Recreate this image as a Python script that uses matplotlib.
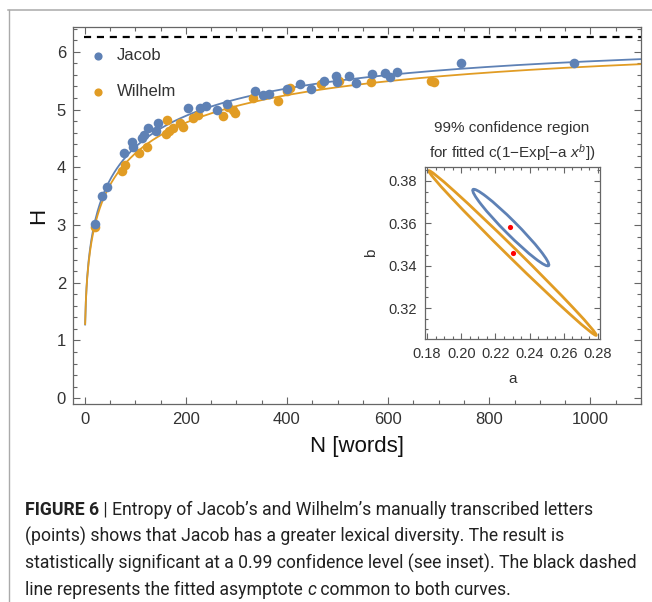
import numpy as np
import matplotlib
matplotlib.use("Agg")
import matplotlib.pyplot as plt
from matplotlib.patches import Ellipse
from matplotlib.lines import Line2D
from matplotlib.ticker import MultipleLocator

# ---------------- data ----------------
jacob_N = [20, 34, 44, 78, 94, 95, 113, 118, 126, 142, 146, 205, 229, 240, 261, 281,
           336, 353, 365, 400, 425, 448, 474, 497, 499, 523, 537, 569, 594, 604, 618, 744, 967]
jacob_H = [3.02, 3.50, 3.66, 4.24, 4.44, 4.36, 4.50, 4.56, 4.68, 4.62, 4.77, 5.03, 5.03, 5.06, 5.00, 5.10,
           5.33, 5.26, 5.27, 5.35, 5.44, 5.35, 5.49, 5.58, 5.48, 5.58, 5.46, 5.61, 5.63, 5.57, 5.65, 5.80, 5.80]

wilhelm_N = [20, 73, 80, 108, 124, 160, 162, 166, 175, 188, 194, 214, 224, 273, 283, 293, 297,
             333, 382, 400, 406, 468, 502, 567, 685, 691]
wilhelm_H = [2.97, 3.94, 4.04, 4.25, 4.35, 4.57, 4.82, 4.62, 4.68, 4.76, 4.70, 4.85, 4.90, 4.89, 5.05, 5.00, 4.94,
             5.20, 5.15, 5.33, 5.38, 5.45, 5.49, 5.48, 5.49, 5.47]

# fitted model c(1 - exp(-a x^b)), common asymptote c
c_fit = 6.25
jacob_ab = (0.2285, 0.3583)
wilhelm_ab = (0.2303, 0.3462)

# 99% confidence ellipses in (a, b): centre, major, minor, angle
jacob_ell = dict(center=(0.229, 0.358), major=0.057, minor=0.0068, angle=-38.9)
wilhelm_ell = dict(center=(0.230, 0.346), major=0.125, minor=0.0050, angle=-38.4)

series_labels = ["Jacob", "Wilhelm"]
xticks_main = [0, 200, 400, 600, 800, 1000]
yticks_main = [0, 1, 2, 3, 4, 5, 6]
xticks_inset = [0.18, 0.20, 0.22, 0.24, 0.26, 0.28]
yticks_inset = [0.32, 0.34, 0.36, 0.38]

caption_lines = [
    [("FIGURE 6", "bold", "normal"), (" | Entropy of Jacob\u2019s and Wilhelm\u2019s manually transcribed letters", "normal", "normal")],
    [("(points) shows that Jacob has a greater lexical diversity. The result is", "normal", "normal")],
    [("statistically significant at a 0.99 confidence level (see inset). The black dashed", "normal", "normal")],
    [("line represents the fitted asymptote ", "normal", "normal"), ("c", "normal", "italic"),
     (" common to both curves.", "normal", "normal")],
]

# ---------------- style ----------------
BLUE = "#5E81B5"
ORANGE = "#E19C24"
TXT = "#333333"
SPINE = "#666666"
plt.rcParams["font.family"] = ["Liberation Sans", "DejaVu Sans"]
plt.rcParams["mathtext.fontset"] = "custom"
plt.rcParams["mathtext.rm"] = "Liberation Sans"
plt.rcParams["mathtext.it"] = "Liberation Sans:italic"

W, H = 652, 602
fig = plt.figure(figsize=(W / 100, H / 100), dpi=100)

def fx(px):
    return px / W

def fy(py):
    return 1 - py / H

# page frame lines
fig.add_artist(Line2D([fx(8), 1], [fy(10), fy(10)], color="#aaaaaa", lw=1.1, transform=fig.transFigure))
fig.add_artist(Line2D([fx(9), fx(9)], [fy(10), 0], color="#aaaaaa", lw=1.0, transform=fig.transFigure))

# ---------------- main axes ----------------
L, R, T, B = 73, 641, 27, 404
ax = fig.add_axes([fx(L), fy(B), fx(R - L), (B - T) / H])
ax.set_xlim(-23, 1100)
ax.set_ylim(-0.1, 6.43)

ax.axhline(c_fit, xmin=0.02, xmax=1, color="black", lw=1.6, ls=(0, (3.2, 2.6)), zorder=1)

xs = np.linspace(1, 1100, 800)
for (a, b), col in [(jacob_ab, BLUE), (wilhelm_ab, ORANGE)]:
    ax.plot(xs, c_fit * (1 - np.exp(-a * xs ** b)), color=col, lw=1.3, zorder=2)

ax.scatter(wilhelm_N, wilhelm_H, s=48, color=ORANGE, zorder=3, label=series_labels[1], linewidths=0)
ax.scatter(jacob_N, jacob_H, s=48, color=BLUE, zorder=4, label=series_labels[0], linewidths=0)

h, l = ax.get_legend_handles_labels()
leg = ax.legend([h[1], h[0]], [l[1], l[0]], loc="upper left", bbox_to_anchor=(0.005, 0.975),
                frameon=False, fontsize=12, labelspacing=1.25, handletextpad=0.55,
                handlelength=1.2, borderaxespad=0.3, scatterpoints=1, markerscale=0.85)
for t in leg.get_texts():
    t.set_color(TXT)

ax.set_xticks(xticks_main)
ax.set_yticks(yticks_main)
ax.xaxis.set_minor_locator(MultipleLocator(50))
ax.yaxis.set_minor_locator(MultipleLocator(0.2))
ax.tick_params(which="both", direction="in", top=True, right=True, color=SPINE, width=0.8)
ax.tick_params(which="major", length=5, labelsize=12, labelcolor=TXT)
ax.tick_params(axis="x", which="major", pad=6)
ax.tick_params(axis="y", which="major", pad=5)
ax.tick_params(which="minor", length=2.8)
for s in ax.spines.values():
    s.set_color(SPINE)
    s.set_linewidth(0.9)

ax.set_xlabel("N [words]", fontsize=16, color="#111111")
ax.xaxis.set_label_coords(0.5, -0.085)
ax.set_ylabel("H", fontsize=16, color="#111111")
ax.yaxis.set_label_coords(-0.042, 0.5)

# ---------------- inset ----------------
iL, iR, iT, iB = 425, 600, 167, 339
ins = fig.add_axes([fx(iL), fy(iB), fx(iR - iL), (iB - iT) / H])
ins.set_xlim(0.1788, 0.2812)
ins.set_ylim(0.3054, 0.3866)
for e, col in [(wilhelm_ell, ORANGE), (jacob_ell, BLUE)]:
    ins.add_patch(Ellipse(e["center"], e["major"], e["minor"], angle=e["angle"],
                          fill=False, edgecolor=col, lw=2.0))
ins.scatter([jacob_ab[0], wilhelm_ab[0]], [jacob_ab[1], wilhelm_ab[1]], s=14, color="red",
            zorder=5, linewidths=0)
ins.set_xticks(xticks_inset)
ins.set_yticks(yticks_inset)
ins.set_xticklabels([f"{v:.2f}" for v in xticks_inset])
ins.set_yticklabels([f"{v:.2f}" for v in yticks_inset])
ins.xaxis.set_minor_locator(MultipleLocator(0.005))
ins.yaxis.set_minor_locator(MultipleLocator(0.005))
ins.tick_params(which="both", direction="in", top=True, right=True, color=SPINE, width=0.8)
ins.tick_params(which="major", length=4, labelsize=10.5, labelcolor=TXT)
ins.tick_params(axis="y", which="major", pad=6)
ins.tick_params(axis="x", which="major", pad=6)
ins.tick_params(which="minor", length=2)
for s in ins.spines.values():
    s.set_color(SPINE)
    s.set_linewidth(0.9)
ins.set_xlabel("a", fontsize=11, color=TXT)
ins.xaxis.set_label_coords(0.5, -0.19)
ins.set_ylabel("b", fontsize=11, color=TXT)
ins.yaxis.set_label_coords(-0.27, 0.5)

fig.text(fx(512), fy(128), "99% confidence region", ha="center", va="center", fontsize=11, color=TXT)
fig.text(fx(512), fy(153), "for fitted c(1\u2212Exp[\u2212a $x^b$])", ha="center", va="center",
         fontsize=11, color=TXT)

# ---------------- caption ----------------
cap_family = ["Roboto", "DejaVu Sans"]
renderer = fig.canvas.get_renderer()
probe = fig.text(0, 0, caption_lines[2][0][0], fontsize=10, family=cap_family)
wpx = probe.get_window_extent(renderer).width
probe.remove()
cap_size = 10 * 614 / wpx

baselines = [515, 542, 569, 595]
for line, yb in zip(caption_lines, baselines):
    x = 25.0
    for txt, weight, style in line:
        t = fig.text(fx(x), fy(yb), txt, fontsize=cap_size, family=cap_family, weight=weight,
                     style=style, va="baseline", ha="left", color="#222222")
        x += t.get_window_extent(renderer).width

fig.savefig("out.png", dpi=100)
